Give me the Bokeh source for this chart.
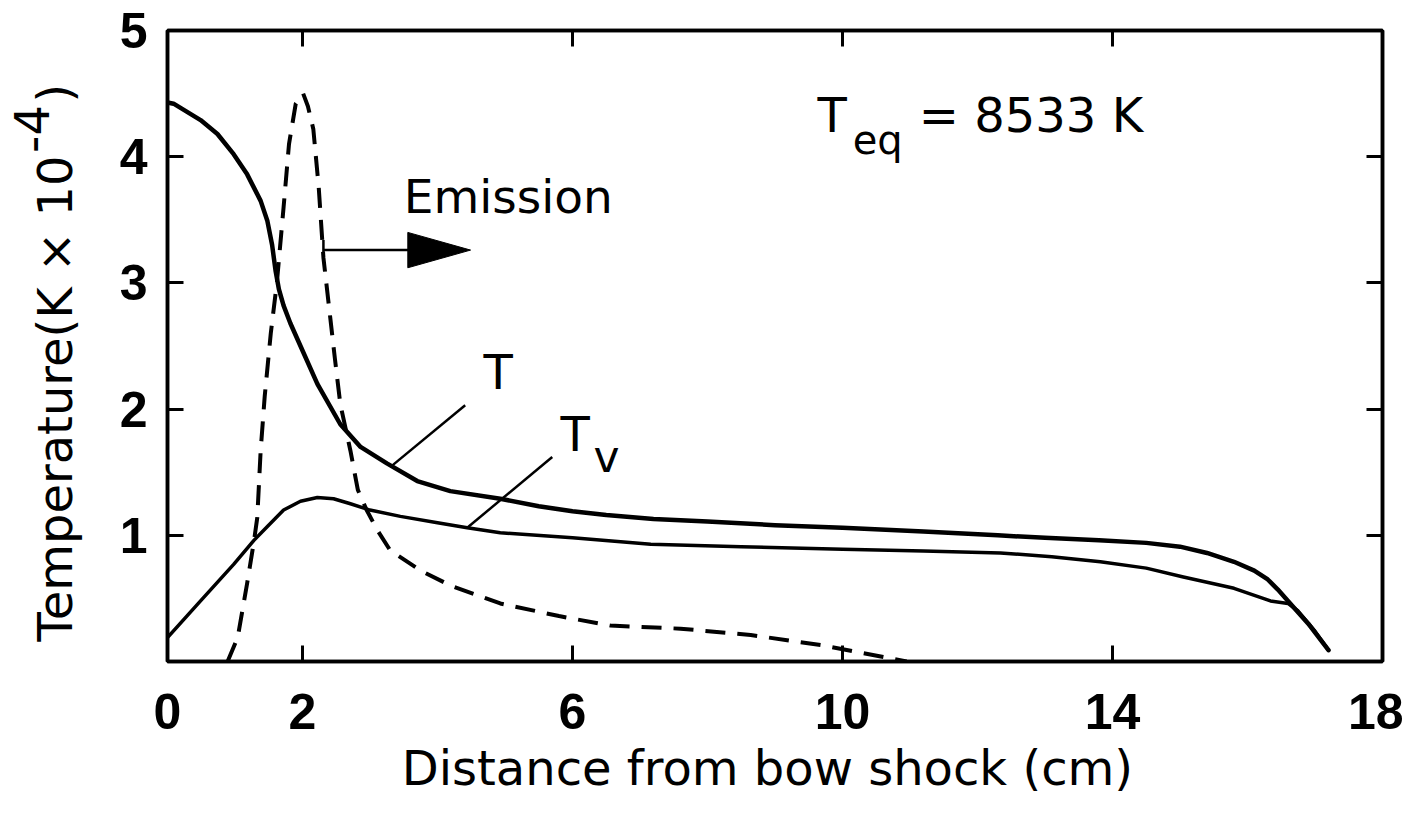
import math
from bokeh.plotting import figure
from bokeh.layouts import row
from bokeh.models import Label, LinearAxis, FixedTicker, Arrow, TeeHead, Range1d
from bokeh.embed import file_html
from bokeh.resources import INLINE

# ---- data ----
x_ticks = [0, 2, 6, 10, 14, 18]
y_ticks = [1, 2, 3, 4, 5]

t_x = [0.0, 0.09, 0.49, 0.74, 0.98, 1.18, 1.38, 1.48, 1.55, 1.60, 1.65, 1.72, 1.82, 1.97,
       2.22, 2.56, 2.86, 3.25, 3.7, 4.19, 4.93, 5.5, 6.0, 6.5, 7.2, 8.0, 9.0, 10.0, 11.2,
       12.3, 13.0, 13.8, 14.5, 15.0, 15.4, 15.8, 16.1, 16.3, 16.45, 16.6, 16.9, 17.2]
t_y = [4.43, 4.42, 4.29, 4.18, 4.02, 3.86, 3.65, 3.49, 3.30, 3.10, 2.95, 2.82, 2.68, 2.50,
       2.20, 1.88, 1.70, 1.57, 1.43, 1.35, 1.29, 1.23, 1.19, 1.16, 1.13, 1.11, 1.08, 1.06, 1.03,
       1.0, 0.98, 0.96, 0.94, 0.91, 0.86, 0.79, 0.72, 0.65, 0.57, 0.48, 0.30, 0.09]

tv_x = [0.0, 0.49, 0.98, 1.28, 1.48, 1.72, 1.97, 2.22, 2.46, 2.71, 3.0, 3.45, 4.0, 4.44,
        4.93, 6.0, 7.16, 8.5, 10.0, 11.2, 12.34, 13.1, 13.82, 14.5, 15.05, 15.3, 15.8, 16.34,
        16.6, 16.75, 17.0, 17.2]
tv_y = [0.19, 0.48, 0.77, 0.96, 1.07, 1.20, 1.27, 1.30, 1.29, 1.25, 1.20, 1.15, 1.10, 1.06,
        1.02, 0.98, 0.93, 0.91, 0.89, 0.875, 0.86, 0.83, 0.79, 0.74, 0.67, 0.64, 0.58, 0.48,
        0.46, 0.40, 0.24, 0.09]

em_x = [0.89, 1.04, 1.18, 1.28, 1.33, 1.38, 1.44, 1.53, 1.62, 1.72, 1.80, 1.90, 2.01, 2.08,
        2.16, 2.24, 2.31, 2.41, 2.48, 2.56, 2.71, 2.82, 2.95, 3.11, 3.3, 3.75, 4.2, 4.93,
        5.8, 6.56, 7.6, 8.64, 9.72, 10.27, 10.76, 10.95]
em_y = [0.0, 0.19, 0.62, 0.95, 1.14, 1.67, 2.1, 2.6, 3.0, 3.6, 4.1, 4.42, 4.5, 4.40,
        4.22, 3.76, 3.2, 2.73, 2.4, 2.04, 1.67, 1.36, 1.2, 1.04, 0.88, 0.72, 0.6, 0.46,
        0.36, 0.285, 0.26, 0.21, 0.127, 0.07, 0.02, 0.0]

# annotation anchors (data units)
arrow_x0, arrow_x1, arrow_y = 2.31, 4.49, 3.26
head_len, head_half = 0.93, 0.14
leader_x0 = [3.3, 4.44]
leader_y0 = [1.54, 1.06]
leader_x1 = [4.41, 5.70]
leader_y1 = [2.03, 1.62]

FONT = "DejaVu Sans"
TICKFONT = "Liberation Sans"

p = figure(width=1303, height=815, x_range=Range1d(0, 18), y_range=Range1d(0, 5),
           output_backend="svg", toolbar_location=None,
           min_border_left=67, min_border_right=21, min_border_top=30,
           min_border_bottom=154)
p.grid.visible = False
p.outline_line_color = "black"
p.outline_line_width = 3.5
p.background_fill_color = "white"
p.border_fill_color = "white"

for ax in (p.xaxis[0], p.yaxis[0]):
    ax.major_tick_in = 16
    ax.major_tick_out = 0
    ax.minor_tick_line_color = None
    ax.major_tick_line_width = 3
    ax.axis_line_width = 3.5
    ax.major_label_text_font = TICKFONT
    ax.major_label_text_font_style = "bold"
    ax.major_label_text_font_size = "50px"
    ax.major_label_text_color = "black"

p.xaxis.ticker = FixedTicker(ticks=x_ticks)
p.yaxis.ticker = FixedTicker(ticks=y_ticks)
p.xaxis.major_label_standoff = 32
p.yaxis.major_label_standoff = 20
p.xaxis.axis_label = "Distance from bow shock  (cm)"
p.xaxis.axis_label_text_font = FONT
p.xaxis.axis_label_text_font_style = "normal"
p.xaxis.axis_label_text_font_size = "48px"
p.xaxis.axis_label_standoff = 8
p.xaxis.axis_label_text_color = "black"

for loc, ticks in (("above", [2, 6, 10, 14]), ("right", [1, 2, 3, 4])):
    ax = LinearAxis(ticker=FixedTicker(ticks=ticks), major_tick_in=16, major_tick_out=0,
                    minor_tick_line_color=None, major_tick_line_width=3,
                    axis_line_width=3.5, major_label_text_font_size="1px",
                    major_label_text_color=None, major_label_standoff=0)
    p.add_layout(ax, loc)

# curves
p.line(t_x, t_y, line_color="black", line_width=4.5, line_join="round", line_cap="round")
p.line(tv_x, tv_y, line_color="black", line_width=3.5, line_join="round", line_cap="round")
p.line(em_x, em_y, line_color="black", line_width=4, line_dash="20 12", line_join="round")

# leaders
p.segment(x0=leader_x0, y0=leader_y0, x1=leader_x1, y1=leader_y1,
          line_color="black", line_width=2.5)

# emission arrow
p.add_layout(Arrow(start=TeeHead(size=20, line_width=2.5), end=None,
                   x_start=arrow_x0, y_start=arrow_y, x_end=arrow_x1 - head_len + 0.05,
                   y_end=arrow_y, line_width=2.5, line_color="black"))
p.patch(x=[arrow_x1 - head_len, arrow_x1, arrow_x1 - head_len],
        y=[arrow_y - head_half, arrow_y, arrow_y + head_half],
        fill_color="black", line_color="black", line_width=1)

def lab(fig, x, y, text, size, **kw):
    fig.add_layout(Label(x=x, y=y, text=text, text_font=FONT, text_font_size=size,
                         text_color="black", **kw))

lab(p, 3.5, 3.47, "Emission", "47px")
lab(p, 4.9, 2.07, "T", "48px", text_align="center")
lab(p, 6.04, 1.58, "T", "48px", text_align="center")
lab(p, 6.31, 1.42, "v", "44px")
lab(p, 9.63, 4.11, "T", "48px")
lab(p, 10.15, 3.95, "eq", "40px")
lab(p, 11.13, 4.11, "= 8533 K", "48px")

# left strip carrying the y-axis title (with raised exponent)
pl = figure(width=100, height=815, x_range=Range1d(0, 100), y_range=p.y_range,
            output_backend="svg", toolbar_location=None,
            x_axis_location=None, y_axis_location=None,
            min_border_left=0, min_border_right=0, min_border_top=30,
            min_border_bottom=154)
pl.grid.visible = False
pl.outline_line_color = None
pl.background_fill_color = "white"
pl.border_fill_color = "white"

lab(pl, 54, 4.01, "Temperature(K × 10", "48px", angle=math.pi / 2, text_align="right",
    text_baseline="alphabetic")
lab(pl, 31, 4.03, "-4", "48px", angle=math.pi / 2, text_align="left",
    text_baseline="alphabetic")
lab(pl, 54, 4.43, ")", "48px", angle=math.pi / 2, text_align="left",
    text_baseline="alphabetic")

layout = row(pl, p, spacing=0)
open("out.html", "w").write(file_html(layout, INLINE))
